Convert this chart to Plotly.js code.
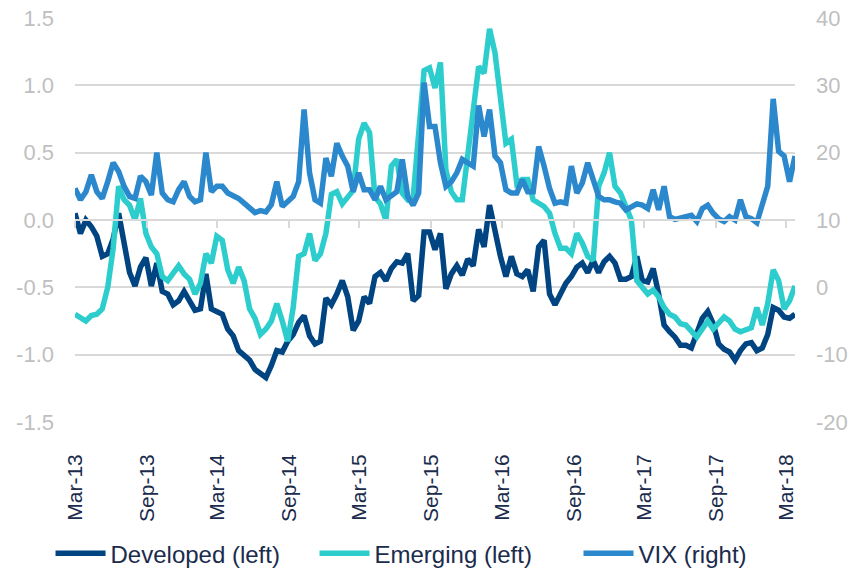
<!DOCTYPE html>
<html>
<head>
<meta charset="utf-8">
<script src="https://cdn.plot.ly/plotly-3.0.1.min.js"></script>
<style>html,body{margin:0;padding:0;background:#fff;}#chart{width:854px;height:572px;}</style>
</head>
<body>
<div id="chart"></div>
<script>
const dates = [
'2013-03-01','2013-03-15','2013-03-29','2013-04-12','2013-04-26','2013-05-10','2013-05-24','2013-06-07','2013-06-21','2013-07-05',
'2013-07-19','2013-08-02','2013-08-16','2013-08-30','2013-09-13','2013-09-27','2013-10-11','2013-10-25','2013-11-08','2013-11-22',
'2013-12-06','2013-12-20','2014-01-03','2014-01-17','2014-01-31','2014-02-14','2014-02-28','2014-03-14','2014-03-28','2014-04-11',
'2014-04-25','2014-05-09','2014-05-23','2014-06-06','2014-06-20','2014-07-04','2014-07-18','2014-08-01','2014-08-15','2014-08-29',
'2014-09-12','2014-09-26','2014-10-10','2014-10-24','2014-11-07','2014-11-21','2014-12-05','2014-12-19','2015-01-02','2015-01-16',
'2015-01-30','2015-02-13','2015-02-27','2015-03-13','2015-03-27','2015-04-10','2015-04-24','2015-05-08','2015-05-22','2015-06-05',
'2015-06-19','2015-07-03','2015-07-17','2015-07-31','2015-08-14','2015-08-28','2015-09-11','2015-09-25','2015-10-09','2015-10-23',
'2015-11-06','2015-11-20','2015-12-04','2015-12-18','2016-01-01','2016-01-15','2016-01-29','2016-02-12','2016-02-26','2016-03-11',
'2016-03-25','2016-04-08','2016-04-22','2016-05-06','2016-05-20','2016-06-03','2016-06-17','2016-07-01','2016-07-15','2016-07-29',
'2016-08-12','2016-08-26','2016-09-09','2016-09-23','2016-10-07','2016-10-21','2016-11-04','2016-11-18','2016-12-02','2016-12-16',
'2016-12-30','2017-01-13','2017-01-27','2017-02-10','2017-02-24','2017-03-10','2017-03-24','2017-04-07','2017-04-21','2017-05-05',
'2017-05-19','2017-06-02','2017-06-16','2017-06-30','2017-07-14','2017-07-28','2017-08-11','2017-08-25','2017-09-08','2017-09-22',
'2017-10-06','2017-10-20','2017-11-03','2017-11-17','2017-12-01','2017-12-15','2017-12-29','2018-01-12','2018-01-26','2018-02-09',
'2018-02-23','2018-03-09','2018-03-23'
];

const developed = [
0.05,-0.10,0.00,-0.05,-0.12,-0.27,-0.25,-0.14,0.05,-0.15,
-0.39,-0.49,-0.35,-0.28,-0.49,-0.32,-0.53,-0.55,-0.63,-0.60,
-0.53,-0.60,-0.67,-0.66,-0.40,-0.66,-0.68,-0.70,-0.81,-0.86,
-0.97,-1.01,-1.04,-1.11,-1.14,-1.17,-1.08,-0.97,-0.98,-0.90,
-0.85,-0.76,-0.71,-0.86,-0.92,-0.90,-0.58,-0.63,-0.55,-0.45,
-0.57,-0.82,-0.75,-0.57,-0.62,-0.42,-0.39,-0.45,-0.36,-0.31,
-0.32,-0.25,-0.60,-0.56,-0.09,-0.09,-0.22,-0.10,-0.51,-0.40,
-0.34,-0.41,-0.29,-0.34,-0.07,-0.20,0.11,-0.10,-0.27,-0.42,
-0.27,-0.40,-0.42,-0.37,-0.53,-0.20,-0.15,-0.55,-0.63,-0.55,
-0.47,-0.42,-0.35,-0.32,-0.39,-0.30,-0.39,-0.31,-0.27,-0.32,
-0.44,-0.44,-0.42,-0.27,-0.45,-0.46,-0.36,-0.55,-0.78,-0.83,
-0.87,-0.93,-0.93,-0.95,-0.85,-0.73,-0.68,-0.77,-0.92,-0.96,
-0.98,-1.04,-0.97,-0.92,-0.91,-0.97,-0.95,-0.85,-0.65,-0.67,
-0.72,-0.73,-0.70
];

const emerging = [
-0.70,-0.72,-0.75,-0.71,-0.70,-0.66,-0.50,-0.21,0.25,0.15,
0.11,0.00,0.16,-0.10,-0.20,-0.25,-0.42,-0.45,-0.40,-0.34,
-0.40,-0.44,-0.55,-0.47,-0.25,-0.32,-0.12,-0.15,-0.37,-0.47,
-0.35,-0.45,-0.66,-0.73,-0.85,-0.81,-0.75,-0.62,-0.75,-0.90,
-0.65,-0.27,-0.25,-0.10,-0.30,-0.25,-0.10,0.19,0.21,0.12,
0.17,0.22,0.60,0.72,0.65,0.17,0.12,0.00,0.40,0.45,
0.20,0.15,0.17,0.60,1.11,1.13,0.98,1.17,0.37,0.21,
0.15,0.15,0.47,0.75,1.14,1.09,1.42,1.24,0.90,0.57,
0.60,0.27,0.30,0.30,0.15,0.12,0.10,0.05,-0.10,-0.21,
-0.21,-0.25,-0.10,-0.17,-0.27,-0.30,0.25,0.35,0.50,0.25,
0.20,0.10,0.00,-0.45,-0.50,-0.55,-0.52,-0.57,-0.65,-0.70,
-0.72,-0.77,-0.78,-0.82,-0.87,-0.81,-0.75,-0.81,-0.76,-0.72,
-0.75,-0.81,-0.83,-0.82,-0.80,-0.65,-0.78,-0.62,-0.37,-0.45,
-0.66,-0.60,-0.49
];

const vix = [
14.7,13.0,14.2,16.7,14.2,13.2,15.7,18.5,17.2,15.0,
13.5,13.2,16.5,15.7,13.7,20.0,14.0,13.0,12.7,14.5,
15.7,13.5,12.7,13.0,20.0,14.2,15.0,15.0,14.0,13.7,
13.2,12.5,11.9,11.1,11.4,11.2,12.3,15.7,12.0,12.7,
13.5,15.7,26.4,17.0,13.0,12.5,19.2,16.5,21.4,19.5,
18.0,14.2,17.0,14.5,14.5,13.0,15.0,13.0,13.7,14.2,
19.0,13.5,12.2,14.0,30.4,23.9,23.9,18.5,15.0,15.7,
17.0,19.0,18.5,18.0,27.0,22.4,26.4,19.5,18.5,14.5,
14.0,14.0,16.0,14.2,14.2,20.9,18.0,14.7,12.5,12.7,
12.5,18.0,14.0,15.5,18.5,16.0,13.5,13.0,13.0,12.7,
12.5,11.5,12.0,12.4,12.2,11.7,14.5,11.5,15.0,10.5,
10.1,10.2,10.5,10.7,9.8,11.7,12.2,11.0,10.2,9.8,
10.5,10.0,13.0,10.5,10.2,9.6,12.2,15.0,28.0,20.2,
19.5,15.7,19.5
];

const tickDates = ['2013-03-01','2013-09-01','2014-03-01','2014-09-01','2015-03-01','2015-09-01',
  '2016-03-01','2016-09-01','2017-03-01','2017-09-01','2018-03-01'];
const tickLabels = ['Mar-13','Sep-13','Mar-14','Sep-14','Mar-15','Sep-15','Mar-16','Sep-16','Mar-17','Sep-17','Mar-18'];
const leftTicks = [-1.5,-1.0,-0.5,0.0,0.5,1.0,1.5];
const leftLabels = ['-1.5','-1.0','-0.5','0.0','0.5','1.0','1.5'];
const rightTicks = [-20,-10,0,10,20,30,40];
const rightLabels = ['-20','-10','0','10','20','30','40'];
const seriesNames = ['Developed (left)','Emerging (left)','VIX (right)'];
const seriesColors = ['#004481','#2ECDCD','#2B88CC'];

const narrow = '"Liberation Sans Narrow", "Arial Narrow", "Liberation Sans", Arial, sans-serif';
const arial = '"Liberation Sans", Arial, sans-serif';
const LW = 5.5;

const traces = [
  {x: dates, y: developed, name: seriesNames[0], type: 'scatter', mode: 'lines',
   line: {color: seriesColors[0], width: LW}, xaxis: 'x', yaxis: 'y'},
  {x: dates, y: emerging, name: seriesNames[1], type: 'scatter', mode: 'lines',
   line: {color: seriesColors[1], width: LW}, xaxis: 'x', yaxis: 'y'},
  {x: dates, y: vix, name: seriesNames[2], type: 'scatter', mode: 'lines',
   line: {color: seriesColors[2], width: LW}, xaxis: 'x2', yaxis: 'y2'}
];

const range = ['2013-03-01','2018-03-23'];
const layout = {
  width: 854, height: 572,
  margin: {l: 75, r: 59, t: 18, b: 150, autoexpand: false},
  paper_bgcolor: '#ffffff', plot_bgcolor: '#ffffff',
  showlegend: true,
  legend: {orientation: 'h', xref: 'paper', yref: 'paper', x: -0.034, y: -0.326,
    xanchor: 'left', yanchor: 'middle', itemwidth: 50, entrywidth: 199, entrywidthmode: 'pixels',
    bgcolor: 'rgba(0,0,0,0)', borderwidth: 0,
    font: {family: narrow, size: 24, color: '#1A2B4C'}, traceorder: 'normal'},
  xaxis: {type: 'date', range: range, tickmode: 'array', tickvals: tickDates, ticktext: tickLabels,
    tickangle: -90, showgrid: false, zeroline: false, showline: false, ticks: '',
    ticklabelstandoff: 27, automargin: false,
    tickfont: {family: narrow, size: 21, color: '#1A2B4C'}},
  xaxis2: {type: 'date', range: range, matches: 'x', overlaying: 'x', anchor: 'free', position: 0.5,
    tickmode: 'array', tickvals: tickDates, showticklabels: false, showgrid: false, zeroline: false,
    showline: true, linecolor: '#D9D9D9', linewidth: 2, ticks: 'outside', ticklen: 7, tickwidth: 2, tickcolor: '#D9D9D9'},
  yaxis: {range: [-1.5, 1.5], tickmode: 'array', tickvals: leftTicks, ticktext: leftLabels,
    showgrid: true, gridcolor: '#D9D9D9', gridwidth: 2, zeroline: false, showline: false, ticks: '',
    ticklabelstandoff: 20, automargin: false, tickfont: {family: arial, size: 22, color: '#BFBFBF'}},
  yaxis2: {range: [-20, 40], tickmode: 'array', tickvals: rightTicks, ticktext: rightLabels,
    overlaying: 'y', side: 'right', anchor: 'x2', automargin: false,
    showgrid: false, zeroline: false, showline: false, ticks: '',
    ticklabelstandoff: 20, tickfont: {family: arial, size: 22, color: '#BFBFBF'}}
};

Plotly.newPlot('chart', traces, layout, {displayModeBar: false, staticPlot: true});
</script>
</body>
</html>
